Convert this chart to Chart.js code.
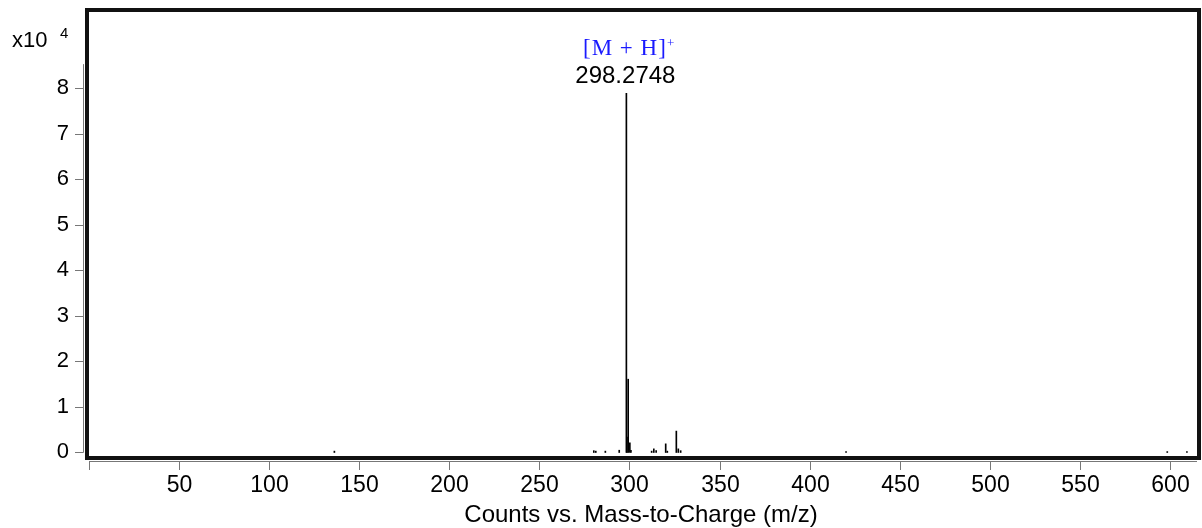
<!DOCTYPE html>
<html>
<head>
<meta charset="utf-8">
<script src="https://cdn.jsdelivr.net/npm/chart.js@4"></script>
<style>
  html, body { margin: 0; padding: 0; background: #fff; }
  canvas { display: block; }
</style>
</head>
<body>
<canvas id="spec" width="1202" height="528"></canvas>
<script>
// peak list: m/z and counts
const mz = [136.2, 280.2, 281.3, 286.6, 294.3, 298.2748, 298.6, 299.28, 300.2, 300.8,
            312.3, 313.5, 314.8, 320.1, 321.0, 326.0, 327.1, 328.4, 420.2, 598.5, 609.4];
const counts = [300, 400, 300, 300, 500, 78900, 3400, 16100, 2100, 500,
                300, 800, 400, 1900, 300, 4700, 800, 400, 200, 200, 200];

const xTicks = [0, 50, 100, 150, 200, 250, 300, 350, 400, 450, 500, 550, 600];
const yTicks = [0, 1, 2, 3, 4, 5, 6, 7, 8]; // x10^4
const yExp = 4;

const basePeak = 298.2748;
const ionLabel = '[M + H]';

const SANS = '"Liberation Sans", Arial, sans-serif';
const SERIF = '"Liberation Serif", "Times New Roman", serif';

// frame, axes and annotations drawn with the chart's own scales
const spectrumDecor = {
  id: 'spectrumDecor',
  afterDraw(chart) {
    const ctx = chart.ctx;
    const a = chart.chartArea;
    const xs = chart.scales.x, ys = chart.scales.y;
    ctx.save();

    // thick frame around the plot
    ctx.strokeStyle = '#111';
    ctx.lineWidth = 4;
    ctx.strokeRect(a.left - 2, a.top - 2, a.right - a.left + 4, a.bottom - a.top + 4);

    // y axis
    ctx.strokeStyle = '#777';
    ctx.lineWidth = 1;
    ctx.beginPath();
    ctx.moveTo(83.5, ys.getPixelForValue(8.53e4));
    ctx.lineTo(83.5, ys.getPixelForValue(0));
    ctx.stroke();
    ctx.fillStyle = '#000';
    ctx.font = '22px ' + SANS;
    ctx.textAlign = 'right';
    ctx.textBaseline = 'middle';
    yTicks.forEach(v => {
      const py = Math.round(ys.getPixelForValue(v * Math.pow(10, yExp))) + 0.5;
      ctx.beginPath();
      ctx.moveTo(75, py);
      ctx.lineTo(83.5, py);
      ctx.stroke();
      ctx.fillText(String(v), 69, py - 1);
    });

    // exponent
    ctx.textAlign = 'left';
    ctx.textBaseline = 'alphabetic';
    ctx.font = '22px ' + SANS;
    ctx.fillText('x10', 12, 47);
    ctx.font = '15px ' + SANS;
    ctx.fillText(String(yExp), 60, 38);

    // x axis
    const axY = 461.5;
    ctx.beginPath();
    ctx.moveTo(xs.getPixelForValue(0), axY);
    ctx.lineTo(a.right, axY);
    ctx.stroke();
    ctx.font = '23px ' + SANS;
    ctx.textAlign = 'center';
    xTicks.forEach(v => {
      const px = Math.round(xs.getPixelForValue(v)) + 0.5;
      ctx.beginPath();
      ctx.moveTo(px, axY);
      ctx.lineTo(px, 470);
      ctx.stroke();
      if (v > 0) ctx.fillText(String(v), px, 492);
    });
    ctx.font = '24px ' + SANS;
    ctx.fillText('Counts vs. Mass-to-Charge (m/z)', 641, 522);

    // base peak annotation
    const bx = xs.getPixelForValue(basePeak);
    ctx.fillText(basePeak.toFixed(4), bx - 1, 83);
    ctx.fillStyle = '#1a1aff';
    ctx.font = '23px ' + SERIF;
    ctx.letterSpacing = '1px';
    ctx.textAlign = 'left';
    ctx.fillText(ionLabel, 583, 55);
    ctx.letterSpacing = '0px';
    ctx.font = '13px ' + SERIF;
    ctx.fillText('+', 667, 47);

    ctx.restore();
  }
};

new Chart(document.getElementById('spec'), {
  type: 'bar',
  data: {
    datasets: [{
      data: mz.map((x, i) => ({ x: x, y: counts[i] })),
      backgroundColor: '#000',
      barThickness: 1,
      grouped: false
    }]
  },
  options: {
    responsive: false,
    animation: false,
    layout: { padding: { left: 89, right: 5, top: 12, bottom: 72 } },
    plugins: { legend: { display: false }, tooltip: { enabled: false } },
    scales: {
      x: { type: 'linear', min: 0, max: 615, offset: false, display: false },
      y: { min: -770, max: 96750, display: false }
    }
  },
  plugins: [spectrumDecor]
});
</script>
</body>
</html>
